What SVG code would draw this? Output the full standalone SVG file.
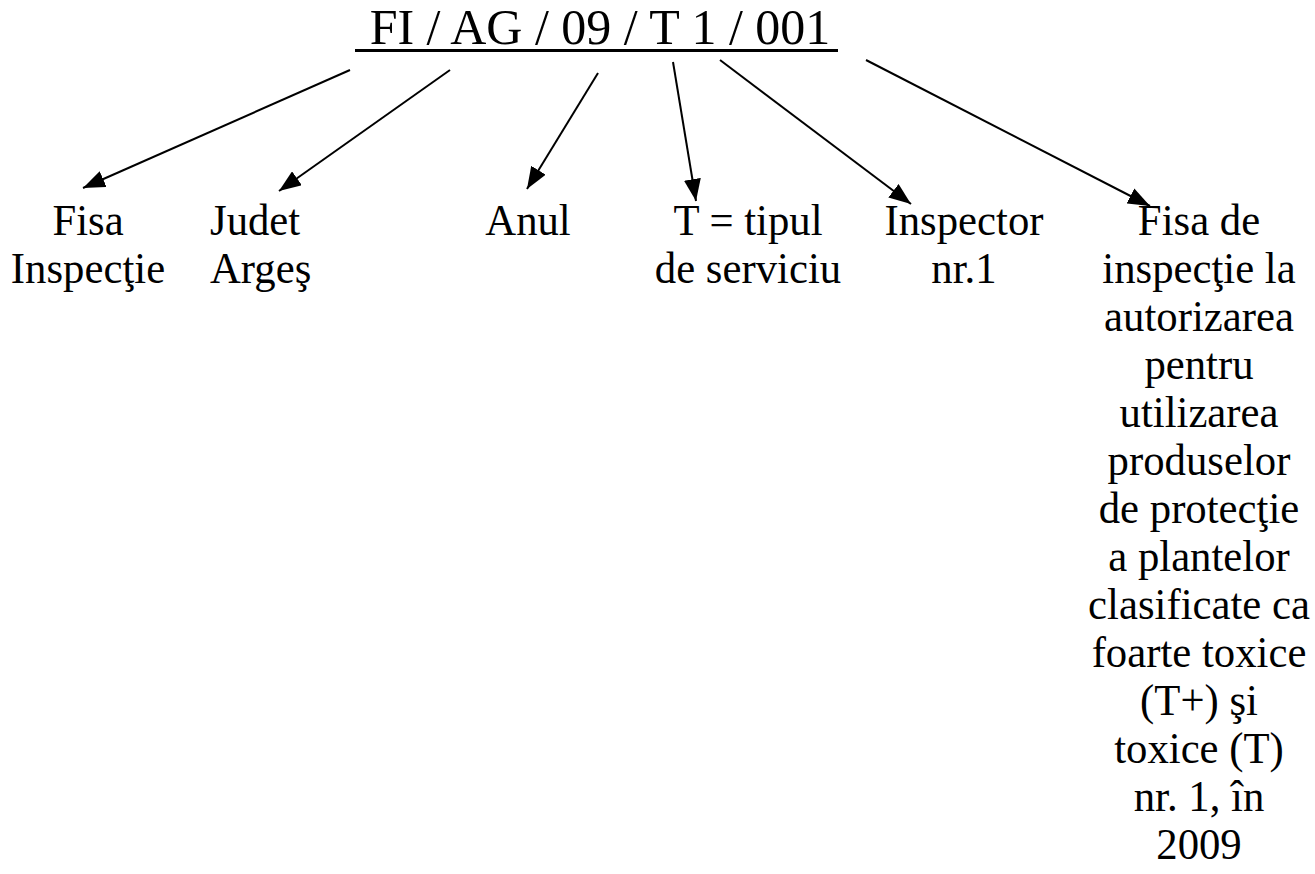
<svg xmlns="http://www.w3.org/2000/svg" width="1315" height="874" viewBox="0 0 1315 874">
<defs>
<style>
text{font-family:"Liberation Serif","Times New Roman",serif;font-size:45px;fill:#000;text-anchor:middle}
.l{text-anchor:start}
.t{font-size:50px}
.cn line{stroke:#000;stroke-width:2}
</style>
<marker id="a" viewBox="0 0 22 17" refX="22" refY="8.5" markerWidth="22" markerHeight="17" markerUnits="userSpaceOnUse" orient="auto">
<path d="M0,0 L22,8.5 L0,17 z" fill="#000"/>
</marker>
</defs>
<rect width="1315" height="874" fill="#fff"/>
<g id="title">
<text class="t" x="600" y="44">FI / AG / 09 / T 1 / 001</text>
<rect x="355" y="49" width="483" height="3" fill="#000"/>
</g>
<g class="cn" id="connectors">
<line x1="350" y1="70" x2="83" y2="188" marker-end="url(#a)"/>
<line x1="450" y1="70" x2="279" y2="191" marker-end="url(#a)"/>
<line x1="598" y1="73" x2="527" y2="189" marker-end="url(#a)"/>
<line x1="673" y1="62" x2="696" y2="201" marker-end="url(#a)"/>
<line x1="720" y1="60" x2="911" y2="204" marker-end="url(#a)"/>
<line x1="866" y1="60" x2="1150" y2="206" marker-end="url(#a)"/>
</g>
<g id="n1" transform="translate(88 0) scale(0.95 1)"><text x="0" y="235">Fisa</text><text x="0" y="283">Inspecţie</text></g>
<g id="n2" transform="translate(210 0) scale(0.95 1)"><text class="l" x="0" y="235">Judet</text><text class="l" x="0" y="283">Argeş</text></g>
<g id="n3" transform="translate(528 0) scale(0.95 1)"><text x="0" y="235">Anul</text></g>
<g id="n4" transform="translate(748 0) scale(0.95 1)"><text x="0" y="235">T = tipul</text><text x="0" y="283">de serviciu</text></g>
<g id="n5" transform="translate(964 0) scale(0.95 1)"><text x="0" y="235">Inspector</text><text x="0" y="283">nr.1</text></g>
<g id="n6" transform="translate(1199 0) scale(0.95 1)">
<text x="0" y="235">Fisa de</text>
<text x="0" y="283">inspecţie la</text>
<text x="0" y="331">autorizarea</text>
<text x="0" y="379">pentru</text>
<text x="0" y="427">utilizarea</text>
<text x="0" y="475">produselor</text>
<text x="0" y="523">de protecţie</text>
<text x="0" y="571">a plantelor</text>
<text x="0" y="619">clasificate ca</text>
<text x="0" y="667">foarte toxice</text>
<text x="0" y="715">(T+) şi</text>
<text x="0" y="763">toxice (T)</text>
<text x="0" y="811">nr. 1, în</text>
<text x="0" y="859">2009</text>
</g>
</svg>
